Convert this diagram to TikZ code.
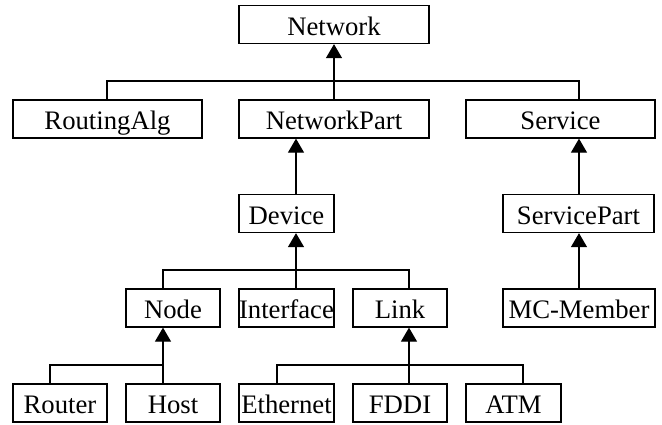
\documentclass[tikz,border=0pt]{standalone}
\usepackage{fontspec}
\setmainfont{Liberation Serif}
\usetikzlibrary{arrows.meta}
\begin{document}
\begin{tikzpicture}[x=1pt,y=-1pt,
  box/.style={draw,line width=1.3pt,rectangle,inner sep=0pt,minimum height=38pt,
    font=\fontsize{26.7}{30}\selectfont,text height=23pt,text depth=2pt},
  ln/.style={line width=1.3pt},
  arr/.style={line width=1.3pt,-{Triangle[length=14pt,width=16pt]}}]
\useasboundingbox (0,0) rectangle (662,424);
% nodes
\node[box,minimum width=190pt] (Network) at (334,24.5) {Network};
\node[box,minimum width=189pt] (RoutingAlg) at (107.5,119) {RoutingAlg};
\node[box,minimum width=190pt] (NetworkPart) at (334,119) {NetworkPart};
\node[box,minimum width=189pt] (Service) at (560.5,119) {Service};
\node[box,minimum width=95pt] (Device) at (286.5,213.5) {Device};
\node[box,minimum width=151pt] (ServicePart) at (578.5,213.5) {ServicePart};
\node[box,minimum width=94pt] (Node) at (173,308) {Node};
\node[box,minimum width=95pt] (Interface) at (286.5,308) {Interface};
\node[box,minimum width=94pt] (Link) at (400,308) {Link};
\node[box,minimum width=152pt] (MCMember) at (579,308) {MC-Member};
\node[box,minimum width=94pt] (Router) at (60,403) {Router};
\node[box,minimum width=94pt] (Host) at (173,403) {Host};
\node[box,minimum width=95pt] (Ethernet) at (286.5,403) {Ethernet};
\node[box,minimum width=94pt] (FDDI) at (400,403) {FDDI};
\node[box,minimum width=95pt] (ATM) at (513.5,403) {ATM};
% bus coordinates
\coordinate (b1) at (334,81);
\coordinate (b1l) at (107,81);
\coordinate (b1r) at (579,81);
\coordinate (b2) at (296,270);
\coordinate (b2l) at (163,270);
\coordinate (b2r) at (409,270);
\coordinate (b3) at (163,365);
\coordinate (b3l) at (50,365);
\coordinate (b4) at (409,365);
\coordinate (b4l) at (277,365);
\coordinate (b4r) at (523,365);
% level 1
\draw[ln] (RoutingAlg.north -| b1l) -- (b1l) -- (b1r) -- (Service.north -| b1r);
\draw[ln] (NetworkPart.north) -- (b1);
\draw[arr] (b1) -- (Network.south);
% NetworkPart <- Device
\draw[arr] (Device.north -| b2) -- (NetworkPart.south -| b2);
% Service <- ServicePart <- MC-Member
\draw[arr] (ServicePart.north -| b1r) -- (Service.south -| b1r);
\draw[arr] (MCMember.north -| b1r) -- (ServicePart.south -| b1r);
% level 2
\draw[ln] (Node.north -| b2l) -- (b2l) -- (b2r) -- (Link.north -| b2r);
\draw[ln] (Interface.north -| b2) -- (b2);
\draw[arr] (b2) -- (Device.south -| b2);
% level 3 Node
\draw[ln] (Router.north -| b3l) -- (b3l) -- (b3);
\draw[arr] (Host.north -| b3) -- (Node.south -| b3);
% level 3 Link
\draw[ln] (Ethernet.north -| b4l) -- (b4l) -- (b4r) -- (ATM.north -| b4r);
\draw[arr] (FDDI.north -| b4) -- (Link.south -| b4);
\end{tikzpicture}
\end{document}
